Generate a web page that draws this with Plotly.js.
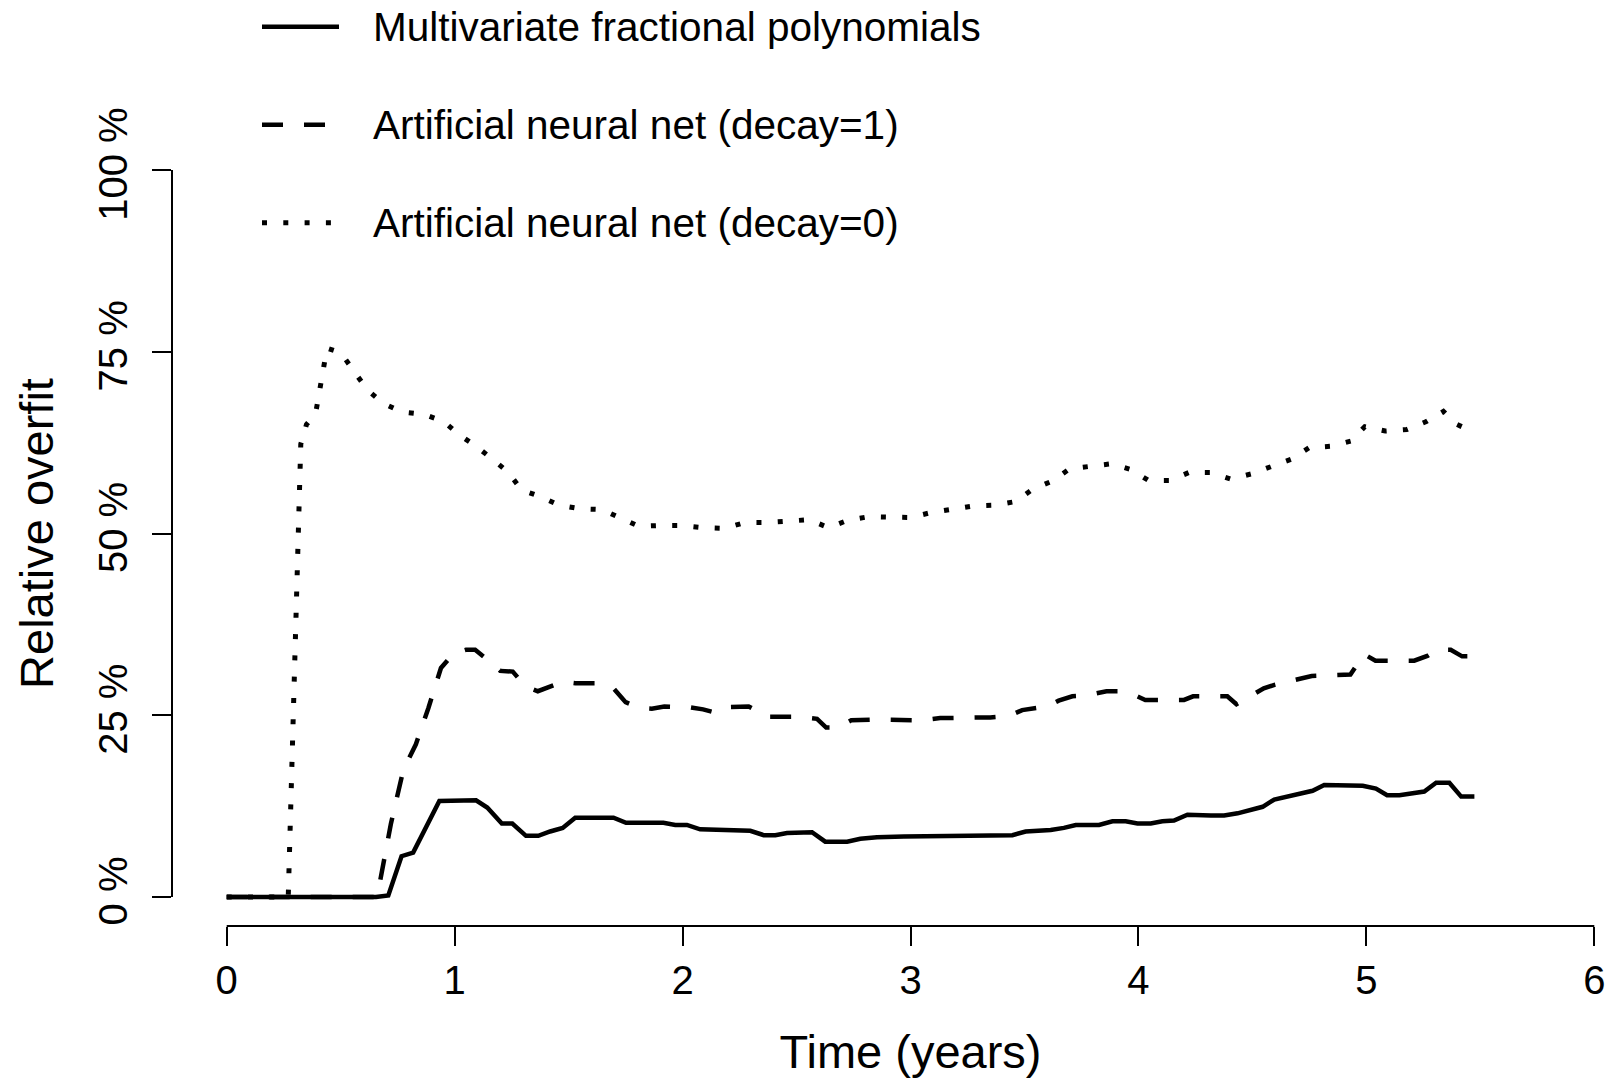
<!DOCTYPE html>
<html>
<head>
<meta charset="utf-8">
<script src="https://cdn.plot.ly/plotly-3.0.1.min.js"></script>
<style>
  html, body { margin: 0; padding: 0; background: #ffffff; overflow: hidden; }
  #chart { width: 1649px; height: 1081px; }
</style>
</head>
<body>
<div id="chart"></div>
<script>
// Relative overfit over follow-up time for three prognostic models.
const seriesNames = [
  'Multivariate fractional polynomials',
  'Artificial neural net (decay=1)',
  'Artificial neural net (decay=0)'
];

// Multivariate fractional polynomials
const mfpTime = [0, 0.655, 0.709, 0.767, 0.818, 0.933, 1.094, 1.143, 1.207, 1.253, 1.313, 1.367, 1.419, 1.474,
  1.529, 1.697, 1.752, 1.916, 1.968, 2.019, 2.077, 2.195, 2.297, 2.356, 2.407, 2.458, 2.568, 2.626, 2.722,
  2.780, 2.853, 2.971, 3.322, 3.447, 3.505, 3.615, 3.673, 3.725, 3.827, 3.886, 3.944, 3.996, 4.054, 4.105,
  4.156, 4.215, 4.318, 4.376, 4.435, 4.493, 4.545, 4.596, 4.655, 4.706, 4.764, 4.815, 4.925, 4.984, 5.042,
  5.091, 5.145, 5.203, 5.254, 5.306, 5.364, 5.416, 5.474];
const mfpOverfit = [0, 0, 0.2, 5.6, 6.1, 13.2, 13.3, 12.3, 10.1, 10.1, 8.4, 8.4, 9.0, 9.5,
  10.9, 10.9, 10.2, 10.2, 9.9, 9.9, 9.3, 9.2, 9.1, 8.5, 8.5, 8.8, 8.9, 7.6, 7.6,
  8.0, 8.2, 8.3, 8.4, 8.5, 9.0, 9.2, 9.5, 9.9, 9.9, 10.4, 10.4, 10.1, 10.1, 10.4,
  10.5, 11.3, 11.2, 11.2, 11.5, 11.9, 12.4, 13.4, 13.8, 14.2, 14.6, 15.4, 15.4, 15.3, 14.9,
  14.0, 14.0, 14.3, 14.5, 15.7, 15.7, 13.8, 13.8];

// Artificial neural net, weight decay = 1
const annDecay1Time = [0, 0.66, 0.72, 0.775, 0.83, 0.885, 0.94, 0.995, 1.05, 1.09, 1.15, 1.20, 1.255, 1.31,
  1.365, 1.42, 1.475, 1.53, 1.64, 1.70, 1.75, 1.81, 1.865, 1.92, 2.03, 2.09, 2.15, 2.20, 2.29, 2.32,
  2.365, 2.50, 2.59, 2.63, 2.68, 2.74, 2.85, 3.05, 3.13, 3.35, 3.43, 3.49, 3.60, 3.65, 3.71, 3.77,
  3.86, 3.92, 3.98, 4.03, 4.20, 4.24, 4.39, 4.43, 4.55, 4.60, 4.67, 4.76, 4.93, 4.99, 5.04, 5.21,
  5.27, 5.31, 5.37, 5.42, 5.475];
const annDecay1Overfit = [0, 0, 10.0, 17.5, 21.0, 26.0, 31.5, 33.5, 34.0, 34.0, 32.5, 31.1, 31.0, 29.0,
  28.3, 29.0, 29.6, 29.4, 29.4, 28.6, 26.8, 26.0, 25.9, 26.2, 26.1, 25.8, 25.3, 26.1, 26.2, 25.7,
  24.8, 24.8, 24.5, 23.3, 23.3, 24.3, 24.4, 24.3, 24.6, 24.7, 24.9, 25.7, 26.2, 27.0, 27.6, 27.7,
  28.3, 28.3, 27.8, 27.1, 27.1, 27.6, 27.6, 26.5, 28.7, 29.2, 29.7, 30.4, 30.6, 33.4, 32.5, 32.5,
  33.2, 34.0, 34.0, 33.1, 33.1];

// Artificial neural net, weight decay = 0
const annDecay0Time = [0, 0.27, 0.325, 0.35, 0.39, 0.44, 0.50, 0.562, 0.616, 0.687, 0.771, 0.865, 0.952,
  1.019, 1.094, 1.167, 1.236, 1.293, 1.374, 1.458, 1.552, 1.646, 1.725, 1.807, 1.900, 1.994, 2.089,
  2.183, 2.272, 2.366, 2.461, 2.556, 2.640, 2.723, 2.814, 2.908, 3.001, 3.092, 3.183, 3.277, 3.371,
  3.461, 3.536, 3.622, 3.698, 3.791, 3.883, 3.966, 4.044, 4.139, 4.222, 4.316, 4.404, 4.495, 4.581,
  4.669, 4.749, 4.842, 4.931, 4.993, 5.083, 5.177, 5.263, 5.338, 5.398, 5.473];
const annDecay0Overfit = [0, 0, 62.3, 65.0, 66.5, 75.5, 74.9, 72.2, 69.8, 67.9, 66.7, 66.4, 65.4,
  63.6, 62.0, 60.2, 58.4, 56.0, 55.1, 53.9, 53.4, 53.3, 52.2, 51.0, 51.1, 51.1, 50.8,
  50.7, 51.5, 51.5, 51.7, 51.9, 50.8, 51.8, 52.3, 52.3, 52.2, 52.9, 53.4, 53.8, 53.9,
  54.4, 56.1, 57.2, 58.9, 59.3, 59.6, 58.8, 57.3, 57.3, 58.4, 58.4, 57.5, 58.2, 59.2,
  60.2, 61.8, 62.0, 62.7, 64.7, 64.1, 64.3, 65.4, 66.8, 65.0, 63.9];

const xTickValues = [0, 1, 2, 3, 4, 5, 6];
const xTickLabels = ['0', '1', '2', '3', '4', '5', '6'];
const yTickValues = [0, 25, 50, 75, 100];
const yTickLabels = ['0 %', '25 %', '50 %', '75 %', '100 %'];

// ---- figure geometry ----
const FONT = '"Liberation Sans", Arial, Helvetica, sans-serif';
const W = 1649, H = 1081;
const M = { l: 172, r: 0, t: 141, b: 155 };
const plotW = W - M.l - M.r, plotH = H - M.t - M.b;
const xRange = [-0.24, 6.24];
const yRange = [-4, 104];

const lineStyles = [
  { dash: 'solid', width: 4.5 },
  { dash: '21px,21px', width: 4.5 },
  { dash: '5px,16.3px', width: 5 }
];

const dataX = [mfpTime, annDecay1Time, annDecay0Time];
const dataY = [mfpOverfit, annDecay1Overfit, annDecay0Overfit];

const traces = seriesNames.map((name, i) => ({
  type: 'scatter',
  mode: 'lines',
  name: name,
  x: dataX[i],
  y: dataY[i],
  line: { color: '#000000', width: lineStyles[i].width, dash: lineStyles[i].dash },
  showlegend: false,
  hoverinfo: 'x+y+name'
}));

// helpers to place decorations in paper space
const pxToPaperX = px => (px - M.l) / plotW;
const pxToPaperY = py => (H - M.b - py) / plotH;
const dataToPaperX = v => (v - xRange[0]) / (xRange[1] - xRange[0]);
const dataToPaperY = v => (v - yRange[0]) / (yRange[1] - yRange[0]);

const shapes = [];
const annotations = [];

// axis lines spanning only the tick range
shapes.push({
  type: 'line', xref: 'paper', yref: 'paper',
  x0: dataToPaperX(xTickValues[0]), x1: dataToPaperX(xTickValues[xTickValues.length - 1]),
  y0: 0, y1: 0, line: { color: '#000000', width: 2 }
});
shapes.push({
  type: 'line', xref: 'paper', yref: 'paper',
  x0: 0, x1: 0,
  y0: dataToPaperY(yTickValues[0]), y1: dataToPaperY(yTickValues[yTickValues.length - 1]),
  line: { color: '#000000', width: 2 }
});

// key in the upper-left corner
const keyTop = 26.7, keyStep = 98;
seriesNames.forEach((name, i) => {
  const ky = keyTop + i * keyStep;
  shapes.push({
    type: 'line', xref: 'paper', yref: 'paper',
    x0: pxToPaperX(262), x1: pxToPaperX(339),
    y0: pxToPaperY(ky), y1: pxToPaperY(ky),
    line: { color: '#000000', width: lineStyles[i].width, dash: lineStyles[i].dash }
  });
  annotations.push({
    xref: 'paper', yref: 'paper',
    x: pxToPaperX(371), y: pxToPaperY(ky),
    xanchor: 'left', yanchor: 'middle',
    text: name, showarrow: false,
    font: { family: FONT, size: 40.5, color: '#000000' }
  });
});

const layout = {
  width: W,
  height: H,
  margin: M,
  paper_bgcolor: '#ffffff',
  plot_bgcolor: '#ffffff',
  font: { family: FONT, color: '#000000' },
  showlegend: false,
  xaxis: {
    range: xRange,
    tickmode: 'array',
    tickvals: xTickValues,
    ticktext: xTickLabels,
    ticks: 'outside',
    ticklen: 19,
    tickwidth: 2,
    tickcolor: '#000000',
    tickfont: { family: FONT, size: 40, color: '#000000' },
    ticklabelstandoff: 0,
    showline: false,
    showgrid: false,
    zeroline: false,
    automargin: false,
    title: { text: 'Time (years)', font: { family: FONT, size: 47, color: '#000000' }, standoff: 34 }
  },
  yaxis: {
    range: yRange,
    tickmode: 'array',
    tickvals: yTickValues,
    ticktext: yTickLabels,
    tickangle: -90,
    ticks: 'outside',
    ticklen: 19,
    tickwidth: 2,
    tickcolor: '#000000',
    tickfont: { family: FONT, size: 40, color: '#000000' },
    ticklabelstandoff: 9,
    showline: false,
    showgrid: false,
    zeroline: false,
    automargin: false,
    title: { text: 'Relative overfit', font: { family: FONT, size: 47, color: '#000000' }, standoff: 22 }
  },
  shapes: shapes,
  annotations: annotations
};

Plotly.newPlot('chart', traces, layout, { displayModeBar: false, staticPlot: false });
</script>
</body>
</html>
